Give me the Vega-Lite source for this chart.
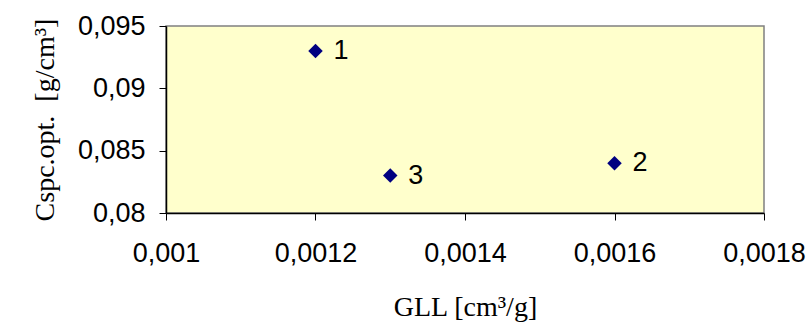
{
  "$schema": "https://vega.github.io/schema/vega-lite/v6.json",
  "autosize": "none",
  "width": 598,
  "height": 187,
  "padding": {"left": 166, "top": 26, "right": 48, "bottom": 110},
  "background": "white",
  "config": {
    "locale": {"number": {"decimal": ",", "thousands": ".", "grouping": [3], "currency": ["", ""]}},
    "view": {"fill": "#FFFFCC", "stroke": "#808080", "strokeWidth": 1.5},
    "axis": {
      "grid": false,
      "domainColor": "#000000",
      "domainWidth": 1.5,
      "tickColor": "#000000",
      "tickSize": 7,
      "tickWidth": 1,
      "labelFont": "Liberation Sans",
      "labelFontSize": 27,
      "labelColor": "#000000",
      "titleFont": "Liberation Serif",
      "titleFontSize": 28,
      "titleFontWeight": "normal",
      "titleColor": "#000000"
    }
  },
  "data": {
    "values": [
      {"gll": 0.0012, "cspc": 0.093, "label": "1"},
      {"gll": 0.0016, "cspc": 0.084, "label": "2"},
      {"gll": 0.0013, "cspc": 0.083, "label": "3"}
    ]
  },
  "encoding": {
    "x": {
      "field": "gll", "type": "quantitative",
      "scale": {"domain": [0.001, 0.0018], "nice": false, "zero": false},
      "axis": {
        "title": "GLL [cm³/g]",
        "values": [0.001, 0.0012, 0.0014, 0.0016, 0.0018],
        "format": "~g",
        "labelPadding": 20,
        "titlePadding": 27,
        "labelFlush": false
      }
    },
    "y": {
      "field": "cspc", "type": "quantitative",
      "scale": {"domain": [0.08, 0.095], "nice": false, "zero": false},
      "axis": {
        "title": "Cspc.opt.\u00a0 [g/cm³]",
        "values": [0.08, 0.085, 0.09, 0.095],
        "format": "~g",
        "labelPadding": 14,
        "titlePadding": 18,
        "labelFlush": false
      }
    }
  },
  "layer": [
    {
      "mark": {"type": "point", "shape": "diamond", "filled": true, "size": 210, "color": "#000080", "opacity": 1}
    },
    {
      "mark": {"type": "text", "align": "left", "baseline": "middle", "dx": 18, "font": "Liberation Sans", "fontSize": 27, "color": "#000000"},
      "encoding": {"text": {"field": "label"}}
    }
  ]
}
